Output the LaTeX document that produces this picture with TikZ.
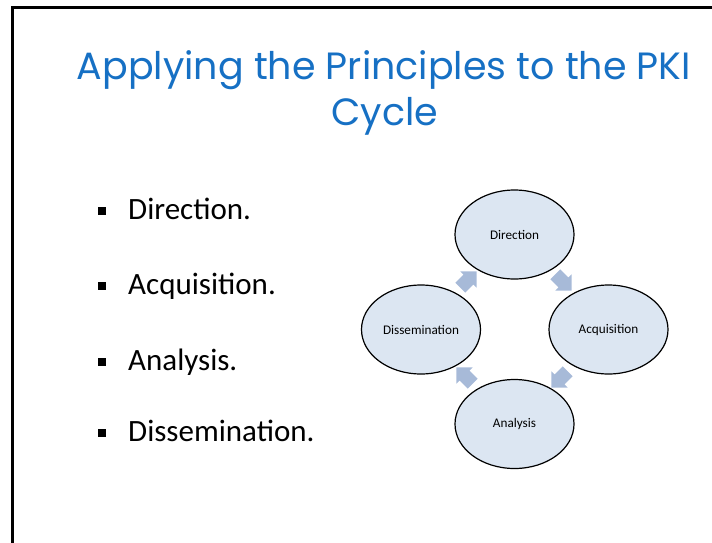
\documentclass[tikz,border=0pt]{standalone}
\usepackage{fontspec}
\setmainfont{Carlito}
\newfontfamily\titlefont{Poppins}
\usetikzlibrary{shapes.geometric,shapes.arrows}
\definecolor{titleblue}{RGB}{22,112,196}
\definecolor{ellfill}{RGB}{220,230,242}
\definecolor{arrfill}{RGB}{167,186,216}
\tikzset{
  stage/.style={ellipse, draw=black, line width=1.2pt, fill=ellfill,
    minimum width=119pt, minimum height=89pt, inner sep=0pt,
    font=\fontsize{13.2}{15}\selectfont},
  cyclearrow/.style={single arrow, fill=arrfill, draw=none, inner sep=6pt,
    minimum width=23pt, minimum height=23pt, single arrow head extend=4pt},
  bulletsq/.style={rectangle, fill=black, minimum size=8pt, inner sep=0pt},
  bullettext/.style={anchor=base west, inner sep=0pt, font=\fontsize{31}{36}\selectfont},
  titletext/.style={anchor=base, inner sep=0pt, text=titleblue, font=\titlefont\fontsize{38}{44}\selectfont}
}
\begin{document}
\begin{tikzpicture}[x=1pt,y=-1pt]
\useasboundingbox (0,0) rectangle (712,542);
% slide frame
\draw[line width=3pt] (12,545) -- (12,7) -- (715,7);
% title
\node[titletext] (t1) at (384,79) {Applying the Principles to the PKI};
\node[titletext] (t2) at (385,125) {Cycle};
% bullets
\node[bulletsq] (b1) at (102,211) {};
\node[bullettext] (l1) at (128,219) {Direction.};
\node[bulletsq] (b2) at (102,286) {};
\node[bullettext] (l2) at (128,294) {Acquisition.};
\node[bulletsq] (b3) at (102,362) {};
\node[bullettext] (l3) at (128,370) {Analysis.};
\node[bulletsq] (b4) at (102,433) {};
\node[bullettext] (l4) at (128,441) {Dissemination.};
% cycle
\node[stage] (dir) at (514.5,234.5) {Direction};
\node[stage] (acq) at (608.5,329.5) {Acquisition};
\node[stage] (ana) at (514.5,424) {Analysis};
\node[stage] (dis) at (421,329.5) {Dissemination};
% arrows (rotation measured on the canvas, y up)
\node[cyclearrow, rotate=-45] (a1) at (561,280) {};
\node[cyclearrow, rotate=-135] (a2) at (562,377) {};
\node[cyclearrow, rotate=135] (a3) at (467,378) {};
\node[cyclearrow, rotate=45] (a4) at (466,282) {};
\end{tikzpicture}
\end{document}
